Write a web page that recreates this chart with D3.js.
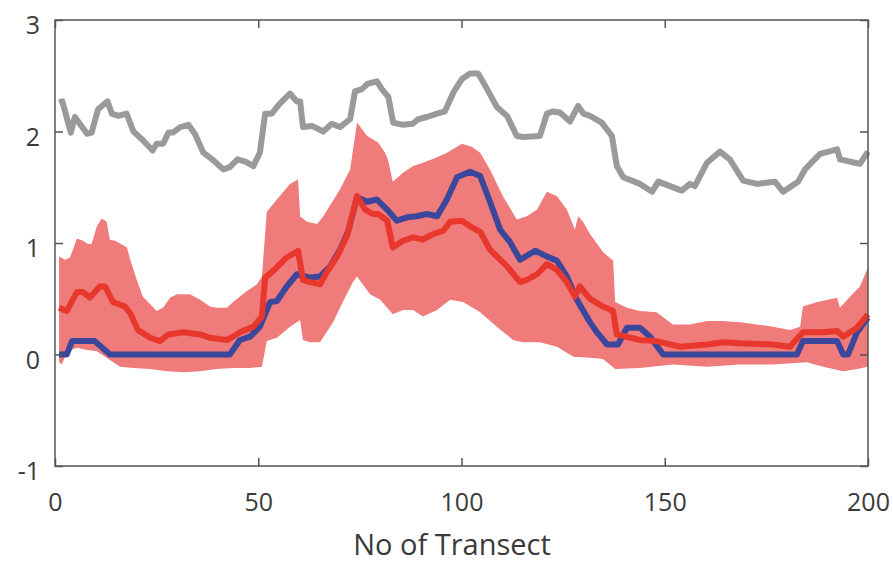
<!DOCTYPE html>
<html>
<head>
<meta charset="utf-8">
<script src="https://cdn.jsdelivr.net/npm/d3@7"></script>
<style>
  body { margin: 0; background: #fff; }
  svg { display: block; }
</style>
</head>
<body>
<div id="chart"></div>
<script>
// values, [transect, value]
const grayLine = [
  [1,2.26],[1.8,2.27],[3.9,1.99],[4.9,2.13],[6.1,2.07],[7.9,1.98],[9,1.99],[10.6,2.2],[12.9,2.27],
  [14,2.16],[15.6,2.14],[17.6,2.16],[19.3,2.0],[21.7,1.92],[24,1.83],[25,1.89],[26.6,1.89],[27.9,1.99],
  [29,1.99],[30.8,2.04],[32.8,2.06],[34.4,1.98],[36.5,1.81],[39,1.74],[41.4,1.66],[43,1.68],[44.9,1.75],
  [46.8,1.73],[48.8,1.69],[50.4,1.81],[51.7,2.16],[53.3,2.16],[55.3,2.25],[57.8,2.34],[59.5,2.27],
  [60.3,2.27],[61,2.04],[63.2,2.05],[66,2.0],[68.1,2.07],[70.1,2.04],[72.6,2.11],[73.8,2.36],[75.5,2.38],
  [77,2.43],[79.2,2.45],[80.4,2.38],[82,2.31],[83.2,2.08],[85.6,2.06],[88,2.07],[89.3,2.11],[91.5,2.13],
  [94,2.16],[95.9,2.18],[98,2.35],[100.1,2.47],[102.1,2.52],[104.1,2.52],[106.3,2.38],[108.7,2.22],
  [111.2,2.14],[113.6,1.96],[115.2,1.95],[119.3,1.96],[121,2.16],[122.5,2.18],[124.2,2.17],[126.7,2.09],
  [128.7,2.23],[130,2.16],[131.6,2.14],[134.5,2.08],[137,1.96],[138.2,1.69],[139.8,1.59],[143.9,1.53],
  [146.9,1.46],[148.4,1.55],[151.3,1.51],[154.2,1.47],[156.2,1.53],[157.4,1.51],[160.4,1.72],[163.6,1.82],
  [166,1.75],[169.3,1.56],[172.7,1.53],[177.1,1.55],[179.1,1.46],[182.8,1.55],[184.5,1.66],[188.2,1.80],
  [192.4,1.84],[193.1,1.75],[196.8,1.72],[198,1.71],[200,1.82]
];

const bandUpper = [
  [1,0.88],[2.5,0.85],[3.7,0.87],[5.4,1.04],[6.9,1.02],[8.1,0.99],[9,0.99],[10.3,1.15],[11.5,1.22],
  [12.7,1.19],[13.5,1.03],[14.8,1.02],[17.7,0.96],[18.5,0.85],[20.1,0.67],[21.6,0.52],[25,0.39],
  [26.6,0.42],[28.3,0.51],[30,0.54],[33.2,0.54],[35.7,0.49],[38.1,0.43],[39.8,0.42],[42.3,0.42],
  [43.8,0.47],[47.2,0.57],[49.7,0.63],[50.9,0.70],[52.1,1.28],[54.6,1.39],[57.8,1.53],[59.8,1.57],
  [60.3,1.24],[62,1.19],[64.5,1.17],[66,1.24],[70.1,1.48],[72.6,1.66],[74.3,2.08],[76.8,1.96],
  [78.2,1.93],[79.5,1.90],[81.2,1.81],[81.9,1.75],[83.1,1.55],[85.6,1.63],[88.1,1.69],[90.5,1.72],
  [94,1.77],[96.4,1.81],[100.1,1.89],[102.6,1.86],[104.6,1.81],[107,1.66],[110.2,1.42],[113.6,1.21],
  [116.1,1.24],[118.6,1.30],[121,1.46],[123.5,1.42],[125.9,1.30],[127.9,1.12],[128.7,1.24],[129.9,1.19],
  [131.6,1.08],[134.8,0.92],[137.3,0.84],[137.8,0.47],[140.7,0.42],[143.9,0.39],[148,0.38],[152,0.27],
  [156.2,0.27],[160.4,0.30],[164.3,0.30],[168.5,0.29],[172.7,0.27],[176.6,0.25],[180.8,0.22],[183.3,0.25],
  [184,0.43],[187.5,0.47],[192.4,0.51],[193.1,0.42],[195.6,0.52],[198,0.61],[200,0.78]
];

const bandLower = [
  [1,-0.07],[1.7,-0.09],[2.9,0.03],[5.4,0.06],[7.8,0.04],[10.3,0.03],[12.7,-0.03],[16,-0.11],[19.3,-0.12],
  [23.4,-0.13],[27.5,-0.15],[31.6,-0.16],[35.7,-0.15],[39.8,-0.13],[43.8,-0.12],[48,-0.12],[50.9,-0.11],
  [52.1,0.12],[54.6,0.15],[57.8,0.25],[60.3,0.31],[61,0.13],[62.7,0.11],[65.2,0.11],[68.4,0.29],[70.8,0.47],
  [73.3,0.65],[74.3,0.70],[77.5,0.54],[80,0.49],[83.1,0.36],[85.6,0.40],[88.1,0.40],[90.5,0.34],[94,0.40],
  [97.2,0.49],[100.4,0.47],[104.6,0.38],[108.7,0.25],[112.7,0.13],[115.1,0.11],[119.3,0.11],[123.5,0.07],
  [127.5,-0.02],[131.6,-0.03],[134.8,-0.04],[137.8,-0.13],[143.9,-0.12],[152,-0.09],[160.4,-0.11],
  [168.5,-0.09],[176.6,-0.09],[185,-0.07],[189,-0.11],[193.9,-0.15],[197.3,-0.13],[200,-0.11]
];

const redLine = [
  [1,0.42],[2.9,0.39],[5.4,0.56],[6.9,0.56],[8.6,0.51],[11,0.61],[12.3,0.61],[14.3,0.47],[17.2,0.43],
  [18.5,0.37],[20.4,0.22],[23.4,0.15],[25.8,0.12],[27.9,0.18],[31.6,0.20],[35.7,0.18],[38.1,0.15],
  [42.3,0.13],[43.8,0.16],[45.5,0.20],[48.8,0.25],[50.9,0.34],[51.7,0.69],[53.7,0.75],[57,0.87],
  [59.8,0.93],[61,0.67],[62.7,0.65],[65.2,0.63],[66.9,0.74],[69.4,0.88],[71.8,1.06],[74.3,1.42],
  [76.3,1.30],[78.2,1.26],[79.5,1.26],[81.7,1.20],[83.1,0.96],[85.6,1.02],[88.1,1.05],[90.5,1.03],
  [93,1.08],[95.5,1.11],[97.2,1.19],[100.1,1.20],[102.1,1.15],[104.6,1.10],[107,0.94],[111.2,0.79],
  [114.4,0.65],[116.1,0.67],[118.6,0.72],[121,0.81],[123.5,0.76],[125.9,0.65],[127.9,0.52],[129.1,0.61],
  [131.6,0.50],[134.8,0.43],[137.3,0.39],[138.2,0.18],[143.9,0.13],[148,0.12],[153.7,0.07],[160.4,0.09],
  [164.3,0.11],[168.5,0.10],[176.6,0.09],[180.8,0.07],[184,0.20],[189,0.20],[192.4,0.21],[193.9,0.16],
  [197.3,0.24],[200,0.36]
];

const blueLine = [
  [1,0],[2.9,0],[4.2,0.12],[9.8,0.12],[13.5,0],[43,0],[45.5,0.13],[48,0.16],[50.4,0.25],[52.9,0.47],
  [54.6,0.48],[57,0.61],[59.5,0.72],[62.7,0.69],[65.2,0.70],[67.7,0.79],[70.1,0.94],[72.1,1.10],
  [74.3,1.41],[76.8,1.37],[79.2,1.39],[81.7,1.30],[84.1,1.20],[86.6,1.23],[89,1.24],[91.5,1.26],
  [94,1.24],[96.4,1.39],[98.9,1.59],[102.1,1.64],[104.6,1.60],[107,1.37],[109.5,1.12],[111.9,1.01],
  [114.4,0.85],[118.1,0.93],[121,0.88],[123.5,0.84],[125.9,0.70],[128.4,0.49],[131.6,0.29],[133.3,0.20],
  [135.8,0.09],[138.5,0.09],[140.7,0.24],[143.9,0.24],[146.4,0.16],[149.6,0],[182.5,0],[184,0.12],
  [192.4,0.12],[193.9,0],[195.1,0],[197.3,0.20],[200,0.33]
];

const xTicks = [0, 50, 100, 150, 200];
const yTicks = [-1, 0, 1, 2, 3];
const xLabel = "No of Transect";

const width = 893;
const height = 562;
const margin = { top: 20, right: 25, bottom: 96, left: 55 };
const innerW = width - margin.left - margin.right;
const innerH = height - margin.top - margin.bottom;

const svg = d3.select("#chart")
  .append("svg")
  .attr("width", width)
  .attr("height", height);

const g = svg.append("g")
  .attr("transform", `translate(${margin.left},${margin.top})`);

const x = d3.scaleLinear().domain([0, 200]).range([0, innerW]);
const y = d3.scaleLinear().domain([-1, 3]).range([innerH, 0]);

// band between lower and upper bound: walk the upper edge, then back along the lower one
const line = d3.line()
  .x(d => x(d[0]))
  .y(d => y(d[1]));

g.append("path")
  .attr("d", line(bandUpper.concat(bandLower.slice().reverse())) + "Z")
  .attr("fill", "#f07b7b")
  .attr("stroke", "none");

const series = [
  { data: grayLine, color: "#9a9a9a" },
  { data: blueLine, color: "#3b479b" },
  { data: redLine, color: "#e8372d" }
];

series.forEach(s => {
  g.append("path")
    .attr("d", line(s.data))
    .attr("fill", "none")
    .attr("stroke", s.color)
    .attr("stroke-width", 6)
    .attr("stroke-linejoin", "round")
    .attr("stroke-linecap", "butt");
});

// === Axes (MATLAB style box, ticks inside) ===
const axisColor = "#555";
const fontFam = "'Open Sans', 'DejaVu Sans', sans-serif";
const plainNum = d => String(d); // keep the ascii hyphen on -1

g.append("g")
  .attr("transform", `translate(0,${innerH})`)
  .call(d3.axisBottom(x).tickValues(xTicks).tickSize(-8).tickPadding(27).tickFormat(plainNum));

const yAxis = g.append("g")
  .call(d3.axisLeft(y).tickValues(yTicks).tickSize(-8).tickPadding(15).tickFormat(plainNum));

g.append("g")
  .call(d3.axisTop(x).tickValues(xTicks).tickSize(-8).tickFormat(""));

g.append("g")
  .attr("transform", `translate(${innerW},0)`)
  .call(d3.axisRight(y).tickValues(yTicks).tickSize(-8).tickFormat(""));

g.selectAll(".domain").remove();
g.selectAll(".tick line")
  .attr("stroke", axisColor)
  .attr("stroke-width", 1.5);

g.selectAll(".tick text")
  .attr("fill", "#3a3a3a")
  .style("font-family", fontFam)
  .style("font-size", "25px");

yAxis.selectAll(".tick text").attr("dy", "0.55em");

g.append("rect")
  .attr("x", 0)
  .attr("y", 0)
  .attr("width", innerW)
  .attr("height", innerH)
  .attr("fill", "none")
  .attr("stroke", axisColor)
  .attr("stroke-width", 1.5);

svg.append("text")
  .attr("x", 452)
  .attr("y", 555)
  .attr("text-anchor", "middle")
  .attr("fill", "#3a3a3a")
  .style("font-family", fontFam)
  .style("font-size", "29px")
  .text(xLabel);
</script>
</body>
</html>
